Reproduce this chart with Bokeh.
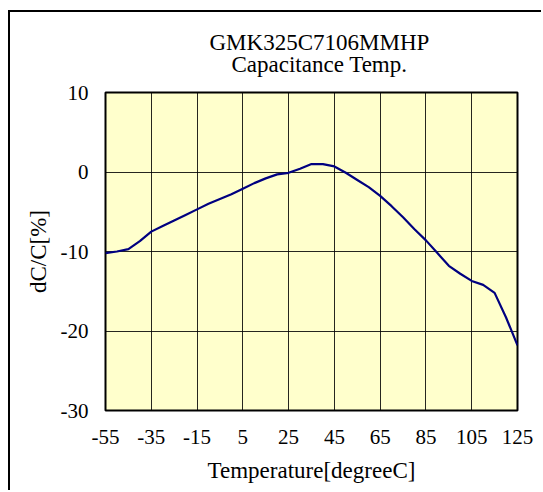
from bokeh.plotting import figure
from bokeh.models import FixedTicker, Title
from bokeh.embed import file_html
from bokeh.resources import INLINE

temps = [-55, -50, -45, -40, -35, -30, -25, -20, -15, -10, -5, 0, 5, 10, 15, 20, 25,
         30, 35, 40, 45, 50, 55, 60, 65, 70, 75, 80, 85, 90, 95, 100, 105, 110, 115, 120, 125]
dcc = [-10.2, -10.0, -9.7, -8.7, -7.5, -6.8, -6.1, -5.4, -4.7, -4.0, -3.4, -2.8, -2.1, -1.4, -0.8, -0.3, -0.1,
       0.4, 1.0, 1.0, 0.7, -0.1, -1.0, -1.9, -3.0, -4.3, -5.7, -7.2, -8.6, -10.2, -11.8, -12.8, -13.7, -14.2, -15.2, -18.3, -21.8]
x_ticks = [-55, -35, -15, 5, 25, 45, 65, 85, 105, 125]
y_ticks = [-30, -20, -10, 0, 10]
title_lines = ["GMK325C7106MMHP", "Capacitance Temp."]
x_label = "Temperature[degreeC]"
y_label = "dC/C[%]"

FONT = "Liberation Serif"
FS = "21px"
FS_BIG = "23px"

p = figure(width=533, height=480, x_range=(-55, 125), y_range=(-30, 10),
           output_backend="svg", toolbar_location=None,
           min_border_left=95, min_border_right=26, min_border_top=80, min_border_bottom=82)
p.styles = {"border-left": "2px solid black", "border-top": "2px solid black",
            "margin-left": "8px", "margin-top": "10px"}

p.background_fill_color = "#FFFFCC"
p.border_fill_color = "white"
p.outline_line_color = "black"
p.outline_line_width = 2

p.title.visible = False
p.add_layout(Title(text=title_lines[1], align="left", offset=126, text_font=FONT,
                   text_font_size=FS_BIG, text_font_style="normal", text_color="black",
                   standoff=31), "above")
p.add_layout(Title(text=title_lines[0], align="left", offset=104, text_font=FONT,
                   text_font_size=FS_BIG, text_font_style="normal", text_color="black",
                   standoff=-40), "above")

p.xaxis.ticker = FixedTicker(ticks=x_ticks)
p.yaxis.ticker = FixedTicker(ticks=y_ticks)
p.xaxis.major_label_overrides = {t: str(t) for t in x_ticks}
p.yaxis.major_label_overrides = {t: str(t) for t in y_ticks}
for ax in (p.xaxis[0], p.yaxis[0]):
    ax.major_tick_in = 0
    ax.major_tick_out = 0
    ax.minor_tick_in = 0
    ax.minor_tick_out = 0
    ax.axis_line_color = None
    ax.major_label_text_font = FONT
    ax.major_label_text_font_size = FS
    ax.major_label_text_color = "black"
    ax.axis_label_text_font = FONT
    ax.axis_label_text_font_size = FS_BIG
    ax.axis_label_text_font_style = "normal"
    ax.axis_label_text_color = "black"
p.xaxis.axis_label = x_label
p.yaxis.axis_label = y_label
p.xaxis.major_label_standoff = 19
p.xaxis.axis_label_standoff = 11
p.yaxis.major_label_standoff = 17
p.yaxis.axis_label_standoff = 7

p.xgrid.ticker = FixedTicker(ticks=x_ticks)
p.ygrid.ticker = FixedTicker(ticks=y_ticks)
p.grid.grid_line_color = "black"
p.grid.grid_line_width = 1
p.grid.grid_line_alpha = 0.85

p.line(temps, dcc, line_color="#000080", line_width=2.2)

open("out.html", "w").write(file_html(p, INLINE))
